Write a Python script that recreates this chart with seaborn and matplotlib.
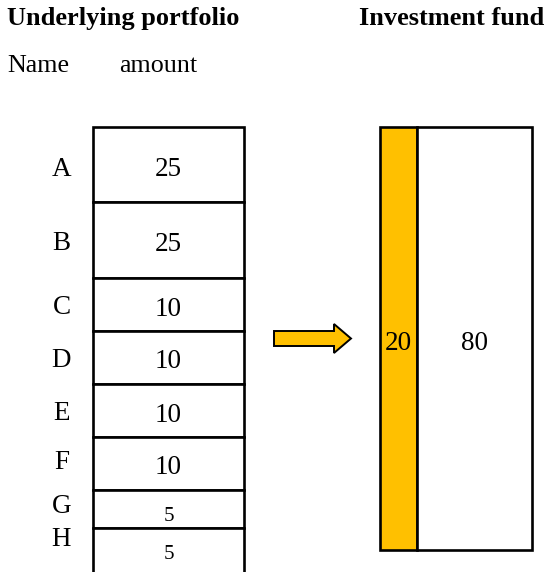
import seaborn as sns
import matplotlib.pyplot as plt
import numpy as np
from matplotlib.patches import FancyArrow, Rectangle

sns.set_style('white')
plt.rcParams['font.family'] = ['Liberation Serif', 'DejaVu Serif']
plt.rcParams['text.color'] = 'black'

# ==========================
# DATA
# ==========================
names = ['A', 'B', 'C', 'D', 'E', 'F', 'G', 'H']
amounts = [25, 25, 10, 10, 10, 10, 5, 5]
fund_labels = ['20', '80']
fund_colors = ['#FFC000', 'white']

# ==========================
# LAYOUT (pixel space, y grows downward)
# ==========================
box_heights = [75, 76, 53, 53, 53, 53, 38, 52]   # drawn height of each box (not to scale)
box_top = 127
box_x, box_w = 168.5, 151
name_x = 61.5
name_base = [176, 250.5, 314, 367, 420, 469, 513, 545.5]   # baselines of the name letters
fund_widths = [37, 115]
fund_left = 380
fund_top, fund_bottom = 127, 550

fig = plt.figure(figsize=(5.46, 5.72), dpi=100)
ax = fig.add_axes([0, 0, 1, 1])
ax.set_xlim(0, 546)
ax.set_ylim(572, 0)
ax.axis('off')

# Headers
ax.text(7, 25, 'Underlying portfolio', fontsize=19, fontweight='bold', va='baseline')
ax.text(359, 25, 'Investment fund', fontsize=19, fontweight='bold', va='baseline')
ax.text(7, 72, 'Name', fontsize=18.7, va='baseline')
ax.text(119, 72, 'amount', fontsize=18.7, va='baseline')

# Underlying portfolio boxes
bottoms = box_top + np.concatenate([[0], np.cumsum(box_heights)[:-1]])
ax.bar([box_x] * len(amounts), box_heights, bottom=bottoms, width=box_w,
       color='white', edgecolor='black', linewidth=1.9)

for i, (n, a) in enumerate(zip(names, amounts)):
    ax.text(name_x, name_base[i], n, fontsize=19.5, ha='center', va='baseline')
    center = bottoms[i] + box_heights[i] / 2
    if a == 5:
        if i == 6:
            # the label in box G is cut off at its lower part
            t = ax.text(box_x, bottoms[i] + 31, str(a), fontsize=15,
                        ha='center', va='baseline')
            clip = Rectangle((box_x - box_w / 2, bottoms[i]), box_w, 27,
                             transform=ax.transData)
            t.set_clip_path(clip)
        else:
            ax.text(box_x, bottoms[i] + 31, str(a), fontsize=15,
                    ha='center', va='baseline')
    else:
        ax.text(box_x, center + 11, str(a), fontsize=19.5, ha='center', va='baseline')

# Arrow
ax.add_patch(FancyArrow(274, 338.5, 77, 0, width=15, head_width=29,
                        head_length=17, length_includes_head=True,
                        facecolor='#FFC000', edgecolor='black', linewidth=1.4))

# Investment fund
lefts = fund_left + np.concatenate([[0], np.cumsum(fund_widths)[:-1]])
ax.barh([(fund_top + fund_bottom) / 2] * 2, fund_widths, left=lefts,
        height=fund_bottom - fund_top, color=fund_colors,
        edgecolor='black', linewidth=1.9)
for lbl, l, w in zip(fund_labels, lefts, fund_widths):
    ax.text(l + w / 2, (fund_top + fund_bottom) / 2 + 11, lbl, fontsize=19.5,
            ha='center', va='baseline')

fig.savefig('out.png', dpi=100)
